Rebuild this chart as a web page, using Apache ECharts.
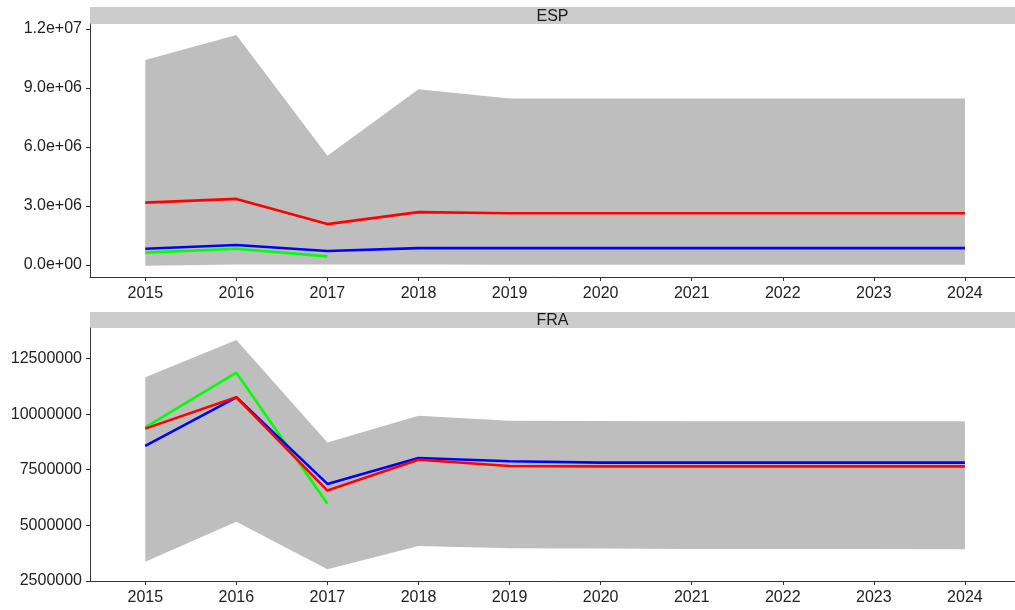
<!DOCTYPE html>
<html>
<head>
<meta charset="utf-8">
<title>ESP / FRA</title>
<script src="https://cdn.jsdelivr.net/npm/echarts@6/dist/echarts.min.js"></script>
<style>
  html, body { margin: 0; padding: 0; background: #ffffff; }
  #chart { width: 1015px; height: 610px; }
</style>
</head>
<body>
<div id="chart"></div>
<script>
// Years on the horizontal axis
const years = [2015, 2016, 2017, 2018, 2019, 2020, 2021, 2022, 2023, 2024];

// ESP: envelope of the simulated runs and the three highlighted series
const espUpper = [10420000, 11690000, 5560000, 8940000, 8460000, 8460000, 8460000, 8460000, 8460000, 8460000];
const espLower = [-40000, 20000, 20000, 20000, 10000, 10000, 10000, 10000, 10000, 10000];
const espRed   = [3170000, 3360000, 2080000, 2690000, 2630000, 2630000, 2630000, 2630000, 2630000, 2630000];
const espBlue  = [830000, 1020000, 710000, 860000, 860000, 860000, 860000, 860000, 860000, 860000];
const espGreen = [630000, 830000, 440000];

// FRA: envelope of the simulated runs and the three highlighted series
const fraUpper = [11660000, 13340000, 8720000, 9930000, 9700000, 9690000, 9680000, 9680000, 9680000, 9680000];
const fraLower = [3360000, 5160000, 3020000, 4070000, 3960000, 3950000, 3930000, 3930000, 3930000, 3920000];
const fraRed   = [9350000, 10760000, 6560000, 7950000, 7670000, 7650000, 7650000, 7650000, 7650000, 7650000];
const fraBlue  = [8570000, 10760000, 6860000, 8030000, 7880000, 7820000, 7820000, 7820000, 7820000, 7820000];
const fraGreen = [9410000, 11870000, 5970000];

// Tick values and labels
const espTickValues = [0, 3000000, 6000000, 9000000, 12000000];
const espTickLabels = ['0.0e+00', '3.0e+06', '6.0e+06', '9.0e+06', '1.2e+07'];
const fraTickValues = [2500000, 5000000, 7500000, 10000000, 12500000];
const fraTickLabels = ['2500000', '5000000', '7500000', '10000000', '12500000'];

const panelTitles = ['ESP', 'FRA'];

const FONT = '"Liberation Sans", Arial, sans-serif';
const AXIS_COLOR = '#333333';
const TEXT_COLOR = '#222222';

function pairs(values) {
  return values.map((v, i) => [years[i], v]);
}

function xAxisFor(gridIndex) {
  return {
    type: 'value', gridIndex,
    min: 2014.393, max: 2024.55,
    axisLine: { show: true, onZero: false, lineStyle: { color: AXIS_COLOR, width: 1 } },
    axisTick: { show: true, length: 4, customValues: years, lineStyle: { color: AXIS_COLOR } },
    axisLabel: {
      customValues: years, margin: 9,
      color: TEXT_COLOR, fontSize: 16, fontFamily: FONT,
      formatter: v => String(Math.round(v))
    },
    splitLine: { show: false }
  };
}

function yAxisFor(gridIndex, min, max, values, labels) {
  return {
    type: 'value', gridIndex, min, max,
    axisLine: { show: true, onZero: false, lineStyle: { color: AXIS_COLOR, width: 1 } },
    axisTick: { show: true, length: 4, customValues: values, lineStyle: { color: AXIS_COLOR } },
    axisLabel: {
      customValues: values, margin: 8,
      color: TEXT_COLOR, fontSize: 16, fontFamily: FONT,
      formatter: v => {
        const k = values.findIndex(t => Math.abs(t - v) < 1);
        return k >= 0 ? labels[k] : '';
      }
    },
    splitLine: { show: false }
  };
}

// Filled envelope between the lower and upper bounds of all simulated runs
function bandSeries(gridIndex, lower, upper) {
  return {
    type: 'custom', xAxisIndex: gridIndex, yAxisIndex: gridIndex,
    silent: true, z: 1,
    data: [[years[0], upper[0]]],
    renderItem: (params, api) => {
      const pts = [];
      for (let i = 0; i < years.length; i++) pts.push(api.coord([years[i], upper[i]]));
      for (let i = years.length - 1; i >= 0; i--) pts.push(api.coord([years[i], lower[i]]));
      return { type: 'polygon', shape: { points: pts }, style: { fill: '#bebebe' } };
    }
  };
}

function lineSeries(gridIndex, values, color, z) {
  return {
    type: 'line', xAxisIndex: gridIndex, yAxisIndex: gridIndex,
    data: pairs(values), showSymbol: false, silent: true, z,
    lineStyle: { color, width: 2.6 }
  };
}

const grids = [
  { left: 90, top: 24, right: 0, height: 253 },
  { left: 90, top: 328, right: 0, height: 253 }
];

// Facet strips above each panel
const strips = [];
const stripBoxes = [{ top: 7, height: 17 }, { top: 312, height: 16 }];
stripBoxes.forEach((b, i) => {
  strips.push({
    type: 'rect', left: 90, top: b.top, silent: true,
    shape: { width: 925, height: b.height },
    style: { fill: '#cccccc' }
  });
  strips.push({
    type: 'text', silent: true,
    x: 90 + 925 / 2, y: b.top + b.height / 2 + 1,
    style: {
      text: panelTitles[i], fill: '#1a1a1a', font: '16px ' + FONT,
      align: 'center', verticalAlign: 'middle'
    }
  });
});

const option = {
  animation: false,
  backgroundColor: '#ffffff',
  grid: grids,
  xAxis: [xAxisFor(0), xAxisFor(1)],
  yAxis: [
    yAxisFor(0, -610000, 12254000, espTickValues, espTickLabels),
    yAxisFor(1, 2490000, 13880000, fraTickValues, fraTickLabels)
  ],
  graphic: strips,
  series: [
    bandSeries(0, espLower, espUpper),
    lineSeries(0, espGreen, '#00ff00', 2),
    lineSeries(0, espBlue, '#0000ff', 3),
    lineSeries(0, espRed, '#ff0000', 4),
    bandSeries(1, fraLower, fraUpper),
    lineSeries(1, fraGreen, '#00ff00', 2),
    lineSeries(1, fraBlue, '#0000ff', 3),
    lineSeries(1, fraRed, '#ff0000', 4)
  ]
};

const chart = echarts.init(document.getElementById('chart'), null, { renderer: 'canvas' });
chart.setOption(option);
</script>
</body>
</html>
